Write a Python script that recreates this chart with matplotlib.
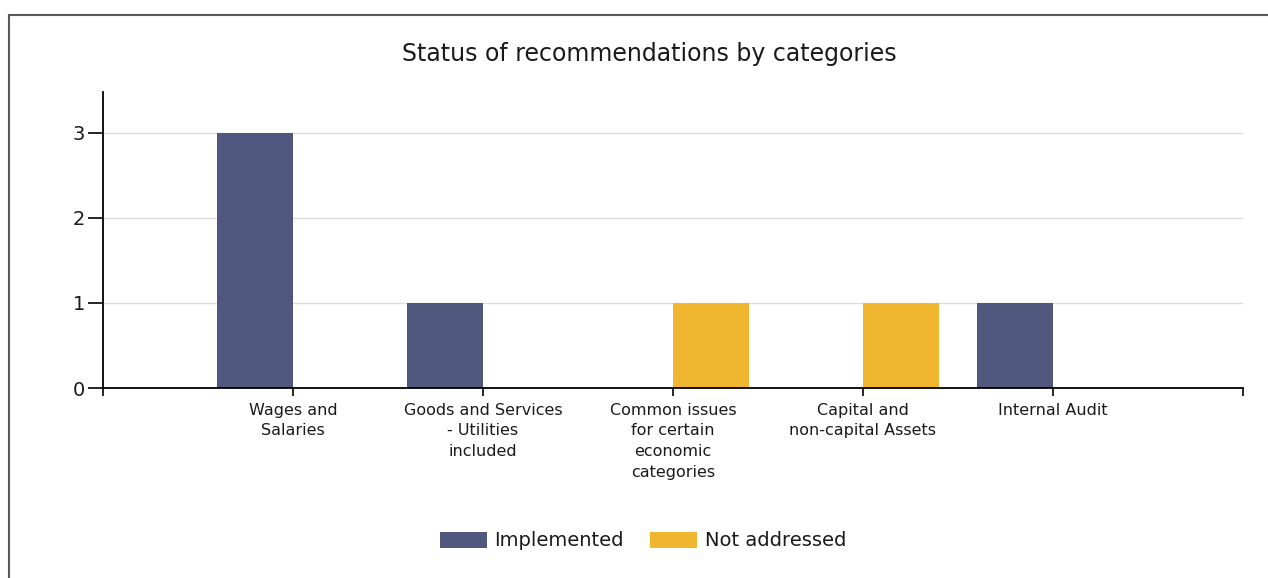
import matplotlib
matplotlib.use("Agg")
import matplotlib.pyplot as plt
import numpy as np
from matplotlib.lines import Line2D

plt.rcParams["font.family"] = ["DejaVu Sans"]

categories = [
    "Wages and\nSalaries",
    "Goods and Services\n- Utilities\nincluded",
    "Common issues\nfor certain\neconomic\ncategories",
    "Capital and\nnon-capital Assets",
    "Internal Audit",
]
implemented = [3, 1, 0, 0, 1]
not_addressed = [0, 0, 1, 1, 0]

C_IMPL = "#4f587c"
C_NOT = "#f0b630"

fig = plt.figure(figsize=(12.68, 5.78), dpi=100)
ax = fig.add_axes([103 / 1268, 1 - 388 / 578, 1140 / 1268, 296 / 578])

x = np.arange(1, len(categories) + 1)
w = 0.4
ax.bar(x - w / 2, implemented, width=w, color=C_IMPL, label="Implemented", zorder=2)
ax.bar(x + w / 2, not_addressed, width=w, color=C_NOT, label="Not addressed", zorder=2)

ax.set_xlim(0, len(categories) + 1)
ax.set_ylim(0, 3.48)
ax.set_yticks([0, 1, 2, 3])
ax.yaxis.grid(True, color="#dcdcdc", linewidth=1, zorder=0)
ax.set_axisbelow(True)

ax.set_xticks(np.arange(0, len(categories) + 2))
ax.set_xticklabels([""] + categories + [""], fontsize=11.5, va="top", linespacing=1.47,
                   color="#1a1a1a")
ax.tick_params(axis="x", direction="out", length=5.5, width=1.2, pad=5)
ax.tick_params(axis="y", direction="out", length=11, width=1.2, labelsize=14, pad=2,
               labelcolor="#1a1a1a")

ax.spines[["top", "right"]].set_visible(False)
ax.spines["left"].set_linewidth(1.3)
ax.spines["bottom"].set_linewidth(1.3)

fig.text(649 / 1268, 1 - 54 / 578, "Status of recommendations by categories",
         ha="center", va="center", fontsize=17, color="#1a1a1a")

fig.legend(loc="center", bbox_to_anchor=(643 / 1268, 1 - 541 / 578), ncol=2,
           frameon=False, fontsize=14, handlelength=2.4, handleheight=0.88,
           columnspacing=1.35, handletextpad=0.4, labelcolor="#1a1a1a")

# outer frame (left and top edges)
fig.add_artist(Line2D([9 / 1268, 9 / 1268], [0, 1 - 15 / 578],
                      transform=fig.transFigure, color="#5a5a5a", linewidth=1.5))
fig.add_artist(Line2D([9 / 1268, 1], [1 - 15 / 578, 1 - 15 / 578],
                      transform=fig.transFigure, color="#5a5a5a", linewidth=1.5))

fig.savefig("out.png", dpi=100)
